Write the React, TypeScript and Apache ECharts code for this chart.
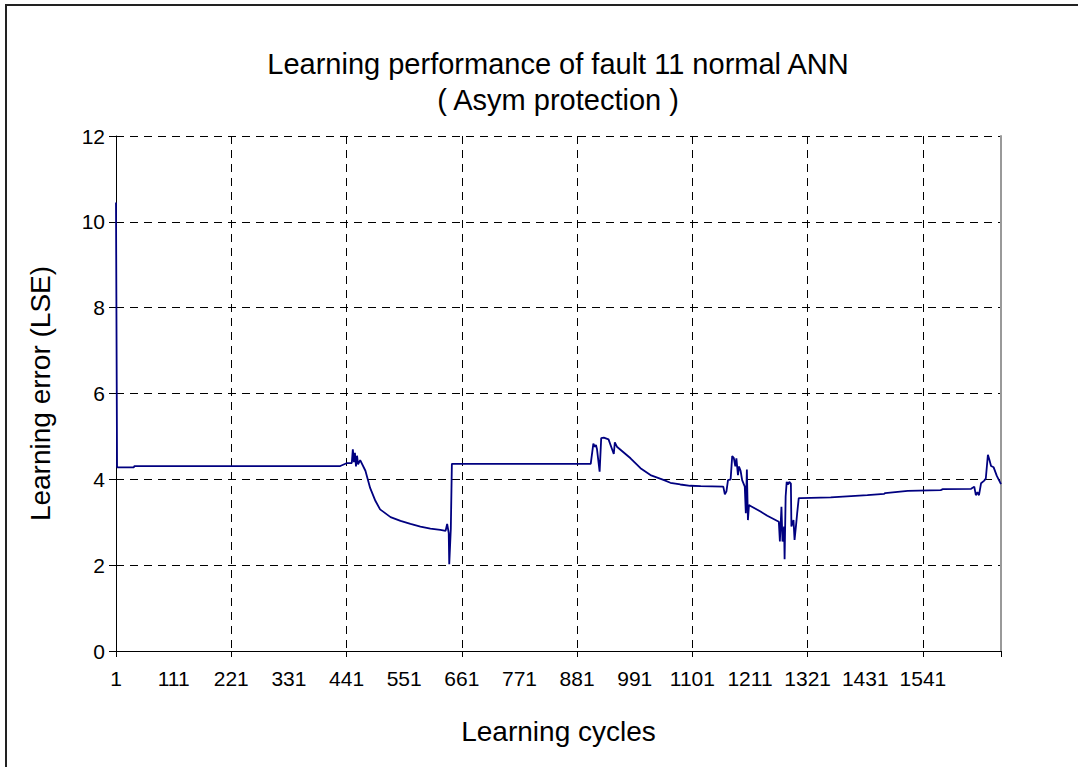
import React, { useEffect, useRef } from "react";
import * as echarts from "echarts";

const titleLines = ["Learning performance of fault 11 normal ANN", "( Asym protection )"];
const xTitle = "Learning cycles";
const yTitle = "Learning error (LSE)";

const cycles = [
  1, 3, 35, 36, 429, 442, 451, 453, 455, 457, 459, 461, 463, 467, 477, 486, 496, 505, 525, 544,
  563, 582, 601, 620, 630, 633, 636, 637, 640, 642, 907, 912, 915, 917, 919, 924, 927, 932, 941, 951,
  953, 957, 983, 1002, 1021, 1047, 1059, 1078, 1097, 1117, 1160, 1163, 1166, 1169, 1174, 1177, 1180,
  1183, 1185, 1188, 1190, 1193, 1196, 1201, 1203, 1205, 1207, 1209, 1212, 1231, 1244, 1266, 1268,
  1271, 1273, 1276, 1277, 1279, 1281, 1284, 1286, 1289, 1290, 1294, 1296, 1299, 1301, 1304, 1308,
  1365, 1435, 1467, 1469, 1512, 1575, 1579, 1633, 1639, 1642, 1645, 1648, 1652, 1658, 1661, 1665,
  1668, 1671, 1676, 1682, 1690,
];
const lse = [
  10.45, 4.28, 4.28, 4.31, 4.31, 4.38, 4.38, 4.7, 4.4, 4.62, 4.3, 4.55, 4.35, 4.45, 4.2, 3.8, 3.5, 3.3, 3.12, 3.03,
  2.96, 2.9, 2.85, 2.82, 2.8, 2.96, 2.75, 2.02, 2.85, 4.36, 4.36, 4.83, 4.76, 4.8, 4.7, 4.18, 4.96, 4.97, 4.93, 4.59,
  4.86, 4.76, 4.49, 4.26, 4.1, 3.98, 3.92, 3.88, 3.85, 3.84, 3.83, 3.65, 3.72, 3.98, 4.0, 4.54, 4.5,
  4.3, 4.49, 4.1, 4.3, 4.2, 3.98, 3.83, 3.21, 4.23, 3.05, 3.4, 3.38, 3.25, 3.15, 3.01, 2.55,
  3.36, 2.55, 2.9, 2.14, 3.6, 3.94, 3.88, 3.94, 3.9, 2.9, 3.05, 2.59, 2.95, 3.21, 3.56, 3.56,
  3.58, 3.63, 3.66, 3.68, 3.73, 3.75, 3.77, 3.78, 3.83, 3.63, 3.7, 3.63, 3.91, 3.97, 4.02, 4.57,
  4.45, 4.31, 4.28, 4.08, 3.89,
];

const xMin = 1;
const xMax = 1690;
const xLabelStep = 110;
const xGridStep = 220;
const lastLabel = 1541;
const yMin = 0;
const yMax = 12;
const yStep = 2;

const FONT = "'Liberation Sans', Arial, sans-serif";

export default function App() {
  const ref = useRef<HTMLDivElement>(null);
  useEffect(() => {
    if (!ref.current) return;
    const chart = echarts.init(ref.current, null, { renderer: "svg" });
    const data = cycles.map((c, i) => [c, lse[i]]);
    chart.setOption({
      animation: false,
      backgroundColor: "#ffffff",
      textStyle: { fontFamily: FONT },
      grid: { left: 116, right: 77, top: 136, bottom: 116, containLabel: false },
      graphic: [
        {
          type: "rect",
          shape: { x: 6, y: 5, width: 1100, height: 800 },
          style: { fill: "none", stroke: "#222", lineWidth: 2 },
          silent: true,
        },
        {
          type: "text",
          x: 558,
          y: 64,
          style: {
            text: titleLines[0],
            fontSize: 29,
            fontFamily: FONT,
            fill: "#000",
            textAlign: "center",
            textVerticalAlign: "middle",
          },
        },
        {
          type: "text",
          x: 558,
          y: 100,
          style: {
            text: titleLines[1],
            fontSize: 29,
            fontFamily: FONT,
            fill: "#000",
            textAlign: "center",
            textVerticalAlign: "middle",
          },
        },
      ],
      xAxis: [
        {
          type: "value",
          min: xMin,
          max: xMax,
          interval: xLabelStep,
          position: "bottom",
          name: xTitle,
          nameLocation: "middle",
          nameGap: 66,
          nameTextStyle: { fontSize: 28, color: "#000", fontFamily: FONT },
          axisLine: { show: true, lineStyle: { color: "#000", width: 1 } },
          axisTick: { show: false },
          splitLine: { show: false },
          axisLabel: {
            fontSize: 21,
            color: "#000",
            margin: 17,
            fontFamily: FONT,
            showMaxLabel: false,
            formatter: (v: number) => (v > lastLabel ? "" : String(v)),
          },
        },
        {
          type: "value",
          min: xMin,
          max: xMax,
          interval: xGridStep,
          position: "bottom",
          axisLine: { show: false },
          axisLabel: { show: false },
          axisTick: { show: true, length: 6, lineStyle: { color: "#000" } },
          splitLine: { show: true, lineStyle: { color: "#000", type: [8, 6], width: 1 } },
        },
      ],
      yAxis: [
        {
          type: "value",
          min: yMin,
          max: yMax,
          interval: yStep,
          name: yTitle,
          nameLocation: "middle",
          nameRotate: 90,
          nameGap: 62,
          nameTextStyle: { fontSize: 28, color: "#000", fontFamily: FONT },
          axisLine: { show: true, lineStyle: { color: "#000", width: 1 } },
          axisTick: { show: true, length: 7, lineStyle: { color: "#000" } },
          axisLabel: { fontSize: 21, color: "#000", margin: 11, fontFamily: FONT },
          splitLine: { show: true, lineStyle: { color: "#000", type: [8, 6], width: 1 } },
        },
        {
          type: "value",
          min: yMin,
          max: yMax,
          position: "right",
          axisLine: { show: true, lineStyle: { color: "#999", width: 2 } },
          axisTick: { show: false },
          axisLabel: { show: false },
          splitLine: { show: false },
        },
      ],
      series: [
        {
          type: "line",
          xAxisIndex: 0,
          yAxisIndex: 0,
          data,
          showSymbol: false,
          symbol: "none",
          lineStyle: { color: "#000080", width: 1.8 },
        },
      ],
    });
    return () => chart.dispose();
  }, []);
  return (
    <div
      ref={ref}
      style={{ position: "fixed", left: 0, top: 0, width: 1078, height: 767, background: "#fff" }}
    />
  );
}
